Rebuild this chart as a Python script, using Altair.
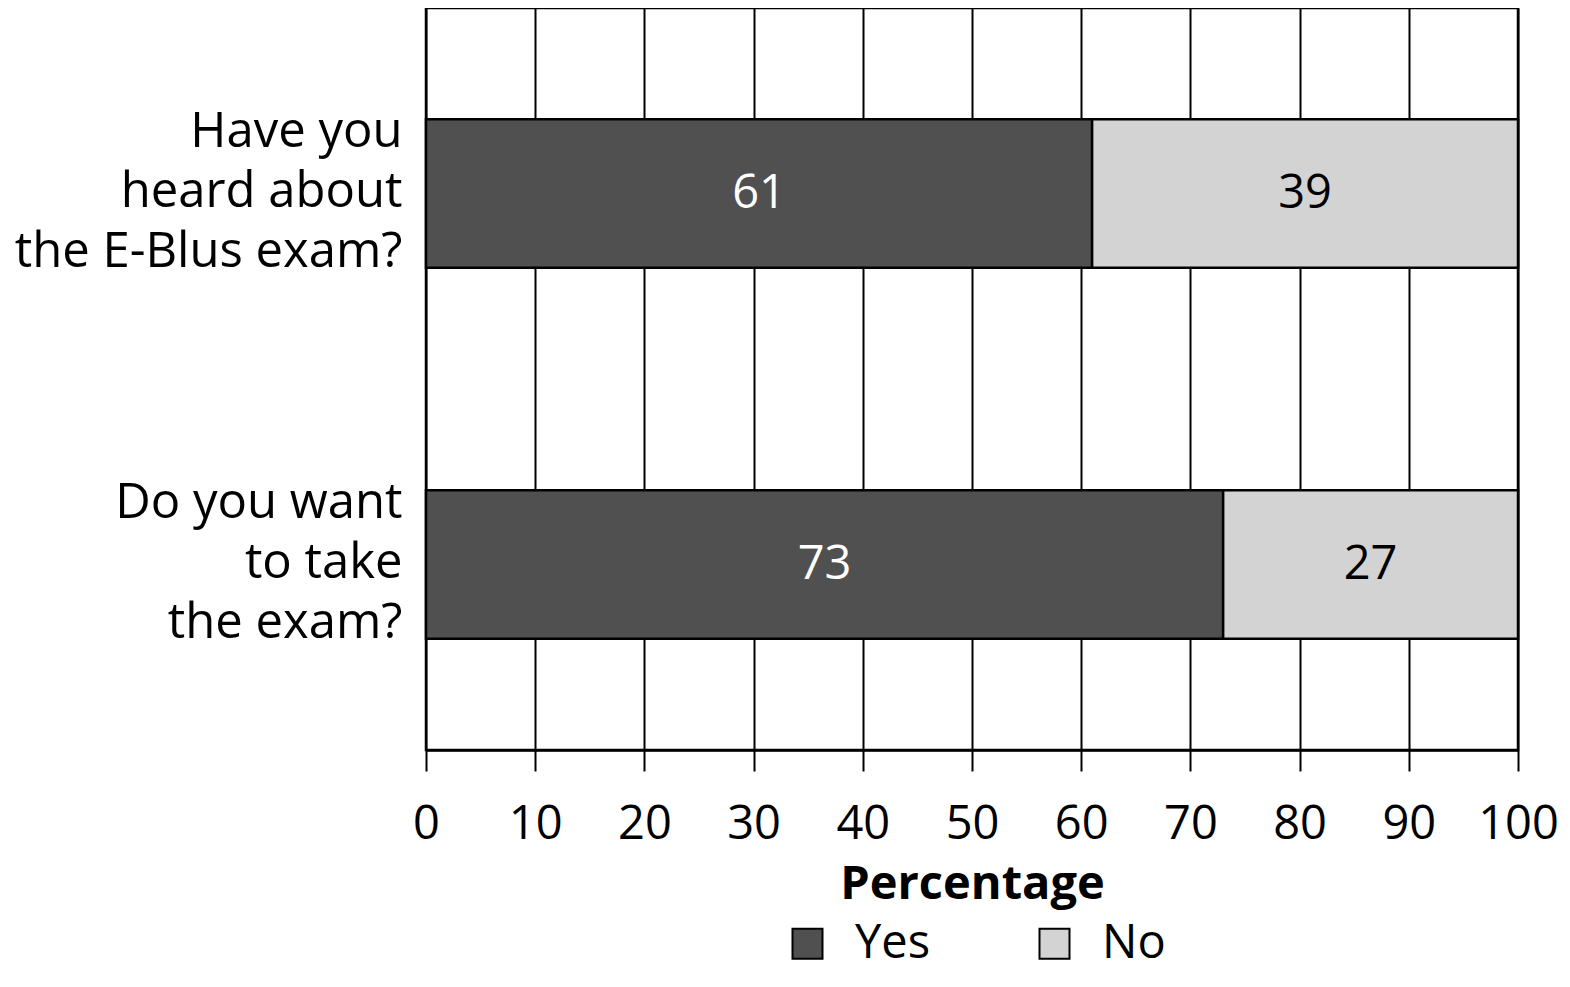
import altair as alt
import pandas as pd

questions = ["Have you|heard about|the E-Blus exam?", "Do you want|to take|the exam?"]
yes_values = [61, 73]
no_values = [39, 27]
answers = ["Yes", "No"]
colors = ["#505050", "#d3d3d3"]
text_colors = ["white", "black"]
ticks = [0, 10, 20, 30, 40, 50, 60, 70, 80, 90, 100]

rows = []
for q, y, n in zip(questions, yes_values, no_values):
    rows.append({"q": q, "answer": "Yes", "value": y, "order": 0})
    rows.append({"q": q, "answer": "No", "value": n, "order": 1})
df = pd.DataFrame(rows)

FONT = "Open Sans"
FS = 47

base = alt.Chart(df).transform_stack(
    stack="value", groupby=["q"], as_=["x0", "x1"], sort=[alt.SortField("order")]
).transform_calculate(mid="(datum.x0 + datum.x1) / 2")

y_enc = alt.Y(
    "q:N",
    sort=questions,
    title=None,
    scale=alt.Scale(paddingInner=0.6, paddingOuter=0.3),
    axis=alt.Axis(
        labelExpr="split(datum.label, '|')",
        labelFont=FONT,
        labelFontSize=49,
        labelColor="black",
        labelLimit=600,
        labelLineHeight=60,
        labelOffset=-62,
        labelPadding=24,
        ticks=False,
        domain=False,
        grid=False,
    ),
)

bars = base.mark_bar(stroke="black", strokeWidth=2.5).encode(
    y=y_enc,
    x=alt.X(
        "x0:Q",
        title="Percentage",
        scale=alt.Scale(domain=[0, 100], nice=False),
        axis=alt.Axis(
            values=ticks,
            labelFont=FONT,
            labelFontSize=FS,
            labelColor="black",
            labelPadding=30,
            labelFlush=False,
            tickSize=21,
            tickColor="black",
            tickWidth=2,
            domainColor="black",
            domainWidth=2.5,
            grid=True,
            gridColor="black",
            gridWidth=2,
            gridOpacity=1,
            titleFont=FONT,
            titleFontSize=FS,
            titleFontWeight="bold",
            titleColor="black",
            titlePadding=14,
        ),
    ),
    x2="x1:Q",
    color=alt.Color(
        "answer:N",
        sort=answers,
        scale=alt.Scale(domain=answers, range=colors),
        legend=alt.Legend(
            title=None,
            orient="none",
            direction="horizontal",
            legendX=358,
            legendY=912,
            symbolType="square",
            symbolSize=900,
            symbolStrokeColor="black",
            symbolStrokeWidth=2,
            symbolOpacity=1,
            labelFont=FONT,
            labelFontSize=FS,
            labelColor="black",
            labelOffset=24,
            columnPadding=100,
        ),
    ),
)

texts = base.mark_text(font=FONT, fontSize=FS, baseline="middle", align="center").encode(
    y=alt.Y("q:N", sort=questions),
    x=alt.X("mid:Q"),
    text=alt.Text("value:Q"),
    color=alt.Color("answer:N", sort=answers, scale=alt.Scale(domain=answers, range=text_colors), legend=None),
)

chart = alt.layer(bars, texts).resolve_scale(color="independent").properties(
    width=1092,
    height=742,
    autosize=alt.AutoSizeParams(type="none"),
    padding={"left": 418, "top": 0, "right": 44, "bottom": 229},
).configure_view(stroke="black", strokeWidth=2.5)

chart.save("out.html", embed_options={"renderer": "svg", "actions": False})
